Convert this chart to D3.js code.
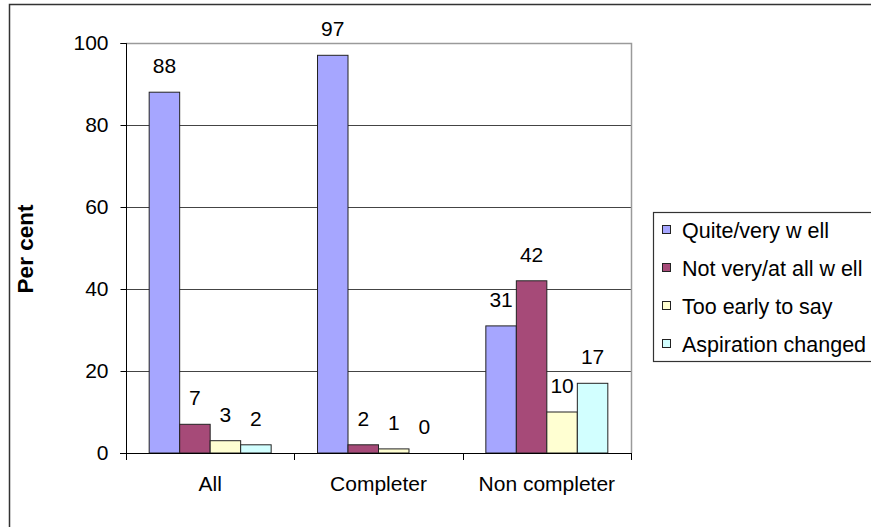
<!DOCTYPE html>
<html>
<head>
<meta charset="utf-8">
<script src="https://cdn.jsdelivr.net/npm/d3@7"></script>
<style>
  html, body { margin: 0; padding: 0; background: #fff; }
  svg { display: block; font-family: "Liberation Sans", Arial, sans-serif; }
</style>
</head>
<body>
<svg id="chart" width="871" height="527"></svg>
<script>
// Survey responses (per cent) by completion status
const categories = ["All", "Completer", "Non completer"];
const seriesNames = ["Quite/very w ell", "Not very/at all w ell", "Too early to say", "Aspiration changed"];
const quiteVeryWell = [88, 97, 31];
const notVeryWell = [7, 2, 42];
const tooEarly = [3, 1, 10];
const aspirationChanged = [2, 0, 17];
const yTicks = [0, 20, 40, 60, 80, 100];
const colors = ["#a6a6ff", "#a64a78", "#ffffd2", "#d2ffff"];

const seriesValues = [quiteVeryWell, notVeryWell, tooEarly, aspirationChanged];

const svg = d3.select("#chart");

// Chart frame (runs off the right and bottom edges)
svg.append("rect")
  .attr("x", 9.5).attr("y", 4.5).attr("width", 880).attr("height", 540)
  .attr("fill", "#fff").attr("stroke", "#333").attr("stroke-width", 1.5);

const plot = { left: 126, right: 631, top: 43, bottom: 453 };

const x0 = d3.scaleBand().domain(categories).range([plot.left, plot.right]).paddingInner(0).paddingOuter(0);
const x1 = d3.scaleBand().domain(d3.range(seriesNames.length))
  .range([0, x0.bandwidth()]).paddingInner(0).paddingOuter(0.76);
const y = d3.scaleLinear().domain([0, 100]).range([plot.bottom, plot.top]);

// Gridlines
svg.append("g")
  .selectAll("line")
  .data(yTicks.filter(t => t > 0 && t < 100))
  .join("line")
  .attr("x1", plot.left).attr("x2", plot.right)
  .attr("y1", d => Math.round(y(d)) + 0.5).attr("y2", d => Math.round(y(d)) + 0.5)
  .attr("stroke", "#444").attr("stroke-width", 1);

// Plot area top and right border
svg.append("path")
  .attr("d", `M${plot.left},${y(100) + 0.5}H${plot.right + 0.5}V${plot.bottom}`)
  .attr("fill", "none").attr("stroke", "#9a9a9a").attr("stroke-width", 1.5);

// Bars
const groups = svg.append("g").selectAll("g")
  .data(categories)
  .join("g")
  .attr("transform", d => `translate(${x0(d)},0)`);

const cells = (c, ci) => seriesValues.map((vals, si) => ({ si, v: vals[ci] }));

groups.selectAll("rect")
  .data(cells)
  .join("rect")
  .attr("x", d => x1(d.si))
  .attr("y", d => y(d.v))
  .attr("width", x1.bandwidth())
  .attr("height", d => y(0) - y(d.v))
  .attr("fill", d => colors[d.si])
  .attr("stroke", "#222").attr("stroke-width", d => d.v > 0 ? 1 : 0);

// Value labels
groups.selectAll("text")
  .data(cells)
  .join("text")
  .attr("x", d => x1(d.si) + x1.bandwidth() / 2)
  .attr("y", d => y(d.v) - 19)
  .attr("text-anchor", "middle")
  .attr("font-size", 21)
  .attr("fill", "#000")
  .text(d => d.v);

// Y axis
const yAxis = d3.axisLeft(y).tickValues(yTicks).tickSize(6).tickPadding(12);
const gy = svg.append("g").attr("transform", `translate(${plot.left + 0.5},0)`).call(yAxis);
gy.select(".domain").attr("stroke", "#000").attr("d", `M-6,${plot.top + 0.5}H0V${plot.bottom}`);
gy.selectAll(".tick line").attr("stroke", "#000");
gy.selectAll(".tick text").attr("font-size", 21).attr("font-family", "Liberation Sans, Arial, sans-serif").attr("fill", "#000");

// X axis with ticks at category boundaries
svg.append("line")
  .attr("x1", plot.left - 6).attr("x2", plot.right)
  .attr("y1", plot.bottom + 0.5).attr("y2", plot.bottom + 0.5)
  .attr("stroke", "#000");
const boundaries = categories.map(c => x0(c)).concat([plot.right]);
svg.append("g").selectAll("line")
  .data(boundaries)
  .join("line")
  .attr("x1", d => Math.round(d) + 0.5).attr("x2", d => Math.round(d) + 0.5)
  .attr("y1", plot.bottom).attr("y2", plot.bottom + 7)
  .attr("stroke", "#000");
svg.append("g").selectAll("text")
  .data(categories)
  .join("text")
  .attr("x", d => x0(d) + x0.bandwidth() / 2)
  .attr("y", 491)
  .attr("text-anchor", "middle")
  .attr("font-size", 21)
  .text(d => d);

// Y axis title
svg.append("text")
  .attr("transform", "translate(33,249) rotate(-90)")
  .attr("text-anchor", "middle")
  .attr("font-size", 22.5)
  .attr("font-weight", "bold")
  .text("Per cent");

// Legend
const legend = svg.append("g");
legend.append("rect")
  .attr("x", 653.5).attr("y", 212.5).attr("width", 230).attr("height", 149)
  .attr("fill", "#fff").attr("stroke", "#333").attr("stroke-width", 1.2);
const rowY = d3.scalePoint().domain(d3.range(seriesNames.length)).range([230, 344]);
const items = legend.selectAll("g.item")
  .data(seriesNames)
  .join("g").attr("class", "item")
  .attr("transform", (d, i) => `translate(0,${rowY(i)})`);
items.append("rect")
  .attr("x", 662.5).attr("y", -4.5).attr("width", 8).attr("height", 8)
  .attr("fill", (d, i) => colors[i]).attr("stroke", "#222");
items.append("text")
  .attr("x", 682).attr("y", 7.5)
  .attr("font-size", 21.5)
  .text(d => d);
</script>
</body>
</html>
